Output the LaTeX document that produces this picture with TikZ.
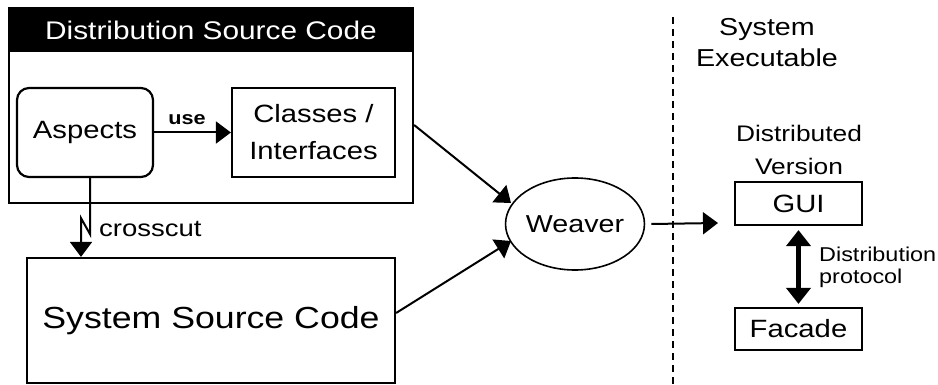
\documentclass[tikz,border=0pt]{standalone}
\usepackage{fontspec}
\setmainfont{Liberation Sans}[FakeStretch=1.17]
\usetikzlibrary{arrows.meta,shapes.geometric}
\begin{document}
\begin{tikzpicture}[x=1pt,y=-1pt,
  box/.style={draw, line width=2.2pt, inner sep=0pt, align=center},
  arr/.style={line width=2pt, -{Triangle[length=15pt,width=22pt]}},
  dbl/.style={line width=4.5pt, {Triangle[length=16pt,width=24pt]}-{Triangle[length=16pt,width=24pt]}},
  fbig/.style={font=\fontsize{30.5}{36}\selectfont},
  fmid/.style={font=\fontsize{25}{37}\selectfont},
  fsm/.style={font=\fontsize{20}{22}\selectfont}]
\useasboundingbox (0,0) rectangle (938,385);
% distribution source code box
\node[box, minimum width=404pt, minimum height=195pt] (dist) at (211,105.5) {};
\node[fill=black, text=white, minimum width=404pt, minimum height=44pt, inner sep=0pt,
      font=\fontsize{25.5}{30}\selectfont] (hdr) at (211,30) {Distribution Source Code};
\node[box, rounded corners=12pt, minimum width=136pt, minimum height=89pt, fmid] (asp) at (85,132.5) {Aspects};
\node[box, minimum width=163pt, minimum height=89pt, fmid] (cls) at (313.5,132.5) {Classes /\\Interfaces};
% system source code
\node[box, minimum width=368pt, minimum height=125pt, fbig] (ssc) at (211,320.5) {System Source Code};
% weaver
\node[draw, ellipse, line width=1.6pt, minimum width=131pt, minimum height=92pt, inner sep=0pt,
      font=\fontsize{24.5}{30}\selectfont] (weaver) at (575,224) {Weaver};
% right side
\node[font=\fontsize{24.5}{31}\selectfont, align=center] (sysx) at (767,43) {System\\Executable};
\node[font=\fontsize{22.5}{33}\selectfont, align=center] (distv) at (799,150) {Distributed\\Version};
\node[box, minimum width=127pt, minimum height=43pt, font=\fontsize{25}{30}\selectfont] (gui) at (798.5,203.5) {GUI};
\node[box, minimum width=127pt, minimum height=42pt, font=\fontsize{25}{30}\selectfont] (fac) at (798.5,329) {Facade};
\node[fsm, align=left, anchor=west, inner sep=0pt] (proto) at (819,267) {Distribution\\protocol};
% dashed separator
\coordinate (dtop) at (673,17);
\coordinate (dbot) at (673,385);
\draw[line width=2pt, dash pattern=on 7pt off 5pt] (dtop) -- (dbot);
% connectors
\draw[arr] (asp.east) -- (cls.west) node[pos=0.43, above=3pt, font=\bfseries\fontsize{18.5}{22}\selectfont] (use) {use};
\coordinate (cc) at (81,0);
\draw[arr, line join=miter] ([xshift=5pt]asp.south) -- ++(0,56) -- ++(-9,-16) -- (cc |- ssc.north);
\node[anchor=west, inner sep=0pt, font=\fontsize{23.5}{28}\selectfont] (cross) at (99,229) {crosscut};
\coordinate (w1) at (511,203);
\coordinate (w2) at (511,241);
\coordinate (wtip) at (718,223);
\draw[arr] ([yshift=-19.5pt]dist.east) -- (w1);
\draw[arr] ([yshift=7.5pt]ssc.east) -- (w2);
\draw[arr] ([xshift=6pt]weaver.east) -- (wtip);
\draw[dbl, shorten <=4pt, shorten >=3pt] (gui.south) -- (fac.north);
\end{tikzpicture}
\end{document}
